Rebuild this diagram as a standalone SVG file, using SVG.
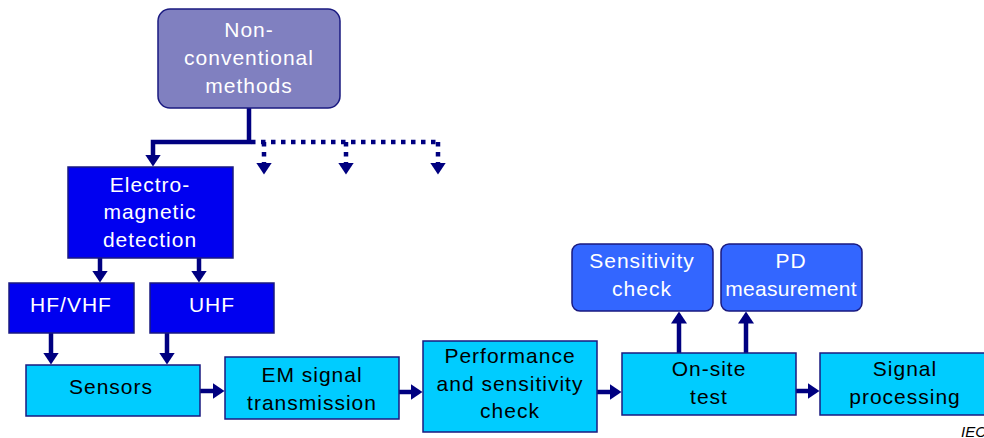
<svg xmlns="http://www.w3.org/2000/svg" width="984" height="438" viewBox="0 0 984 438">
<defs>
<style>
.t{font-family:"Liberation Sans",Arial,sans-serif;font-size:21px;letter-spacing:1px;text-anchor:middle}
.w{fill:#ffffff}
.k{fill:#000000}
.box{stroke:#1a1a80;stroke-width:1.5}
.nc{fill:#8080c0}
.em{fill:#0000f0}
.lb{fill:#00ccff}
.mb{fill:#3366ff}
.c{fill:none;stroke:#000080;stroke-width:4.5}
.d{fill:none;stroke:#000080;stroke-width:4.5;stroke-dasharray:4.5 5.5}
</style>
<marker id="ah" markerUnits="userSpaceOnUse" markerWidth="14" markerHeight="16" refX="0.5" refY="8" orient="auto">
<path d="M0,0 L12,8 L0,16 z" fill="#000080"/>
</marker>
</defs>
<rect width="984" height="438" fill="#ffffff"/>
<g id="connectors">
<path class="c" d="M249,108 V142 H153 V155" marker-end="url(#ah)"/>
<path class="d" d="M251,142 H438"/>
<path class="d" d="M264,142 V163" marker-end="url(#ah)"/>
<path class="d" d="M346,142 V163" marker-end="url(#ah)"/>
<path class="d" d="M438,142 V163" marker-end="url(#ah)"/>
<path class="c" d="M100,258 V271" marker-end="url(#ah)"/>
<path class="c" d="M199,258 V271" marker-end="url(#ah)"/>
<path class="c" d="M51,333 V353" marker-end="url(#ah)"/>
<path class="c" d="M167,333 V353" marker-end="url(#ah)"/>
<path class="c" d="M200,391 H213" marker-end="url(#ah)"/>
<path class="c" d="M399,392 H411" marker-end="url(#ah)"/>
<path class="c" d="M597,392 H610" marker-end="url(#ah)"/>
<path class="c" d="M796,391 H808" marker-end="url(#ah)"/>
<path class="c" d="M679,353 V323" marker-end="url(#ah)"/>
<path class="c" d="M746,353 V323" marker-end="url(#ah)"/>
</g>
<g id="nonconventional">
<rect class="box nc" x="158" y="9" width="182" height="99" rx="12"/>
<text class="t w" x="249" y="37">Non-</text>
<text class="t w" x="249" y="65">conventional</text>
<text class="t w" x="249" y="93">methods</text>
</g>
<g id="electromagnetic">
<rect class="box em" x="68" y="167" width="165" height="91"/>
<text class="t w" x="150" y="192">Electro-</text>
<text class="t w" x="150" y="219">magnetic</text>
<text class="t w" x="150" y="247">detection</text>
</g>
<g id="hfvhf">
<rect class="box em" x="9" y="283" width="125" height="50"/>
<text class="t w" x="71" y="312">HF/VHF</text>
</g>
<g id="uhf">
<rect class="box em" x="150" y="283" width="124" height="50"/>
<text class="t w" x="212" y="312">UHF</text>
</g>
<g id="sensors">
<rect class="box lb" x="26" y="365" width="174" height="51"/>
<text class="t k" x="111" y="394">Sensors</text>
</g>
<g id="emsignal">
<rect class="box lb" x="225" y="357" width="174" height="62"/>
<text class="t k" x="312" y="382">EM signal</text>
<text class="t k" x="312" y="410">transmission</text>
</g>
<g id="performance">
<rect class="box lb" x="423" y="341" width="174" height="91"/>
<text class="t k" x="510" y="363">Performance</text>
<text class="t k" x="510" y="391">and sensitivity</text>
<text class="t k" x="510" y="418">check</text>
</g>
<g id="onsite">
<rect class="box lb" x="622" y="353" width="174" height="62"/>
<text class="t k" x="709" y="376">On-site</text>
<text class="t k" x="709" y="404">test</text>
</g>
<g id="signalprocessing">
<rect class="box lb" x="820" y="353" width="174" height="62"/>
<text class="t k" x="905" y="376">Signal</text>
<text class="t k" x="905" y="404">processing</text>
</g>
<g id="sensitivitycheck">
<rect class="box mb" x="572" y="244" width="141" height="67" rx="8"/>
<text class="t w" x="642" y="268">Sensitivity</text>
<text class="t w" x="642" y="296">check</text>
</g>
<g id="pdmeasurement">
<rect class="box mb" x="721" y="244" width="141" height="67" rx="8"/>
<text class="t w" x="791" y="268">PD</text>
<text class="t w" x="791" y="296" style="letter-spacing:0.3px">measurement</text>
</g>
<text x="961" y="437" style="font-family:'Liberation Sans',Arial,sans-serif;font-size:15px;font-style:italic" fill="#000000">IEC</text>
</svg>
